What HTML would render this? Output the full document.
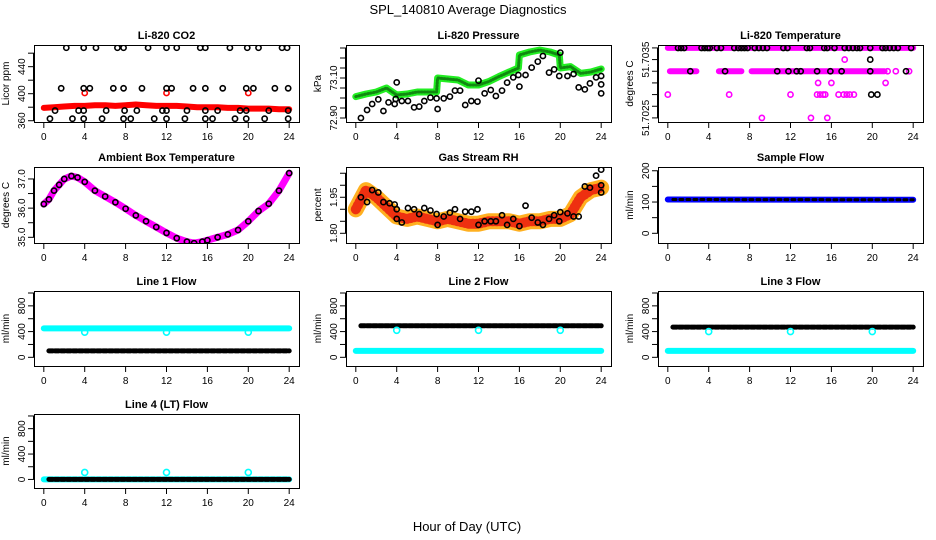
<!DOCTYPE html>
<html><head><meta charset="utf-8">
<style>
html,body{margin:0;padding:0;background:#fff;}
svg{display:block;font-family:"Liberation Sans",sans-serif;}
</style></head>
<body>
<svg id="chart" width="936" height="540" viewBox="0 0 936 540" xmlns="http://www.w3.org/2000/svg">
<rect width="936" height="540" fill="#fff"/>
<text x="468" y="14" text-anchor="middle" font-size="13">SPL_140810  Average Diagnostics</text>
<text x="467" y="531" text-anchor="middle" font-size="13">Hour of Day (UTC)</text>
</svg>
<script>
// ---------- data ----------
var xTicks = [0,4,8,12,16,20,24];
// CO2
var co2BandHours = [0,1,2,3,4,5,6,7,8,9,10,11,12,13,14,15,16,17,18,19,20,21,22,23,24];
var co2BandValues = [379,380,381,382,382,383,383,382,383,384,383,382,382,382,381,380,380,380,379,379,378,378,378,377,377];
var co2RefHours = [4,12,20];
var co2RefValues = [401,401,401];
var co2TopHours = [2.2,3.9,5.1,7.2,7.8,10.2,12,13,15.3,15.8,18.2,19.9,21,23.3,23.8];
var co2TopValues = [468,468,468,468,468,468,468,468,468,468,468,468,468,468,468];
var co2MidHours = [1.7,3.9,4.5,6.8,7.8,9.6,12,12.5,14.6,15.8,17.5,19.8,20.5,22.6,23.9];
var co2MidValues = [408,408,408,408,408,408,408,408,408,408,408,408,408,408,408];
var co2LowHours = [1.1,3.4,3.9,6.1,7.9,9.1,11.6,12,14,15.8,17,19.2,19.8,22,23.9];
var co2LowValues = [375,375,375,375,375,375,375,375,375,375,375,375,375,375,375];
var co2BotHours = [0.6,2.8,3.9,5.7,7.8,8.5,10.8,12,13.8,15.8,16.5,18.7,19.8,21.6,23.9];
var co2BotValues = [363,363,363,363,363,363,363,363,363,363,363,363,363,363,363];
var co2Ticks = [360,380,400,420,440,460];
var co2Labels = ["360","","400","","440",""];
// Pressure
var presBandHours = [0,1,2,3,4,5,6,7,7.9,8,9,10,11,12,13,14,15,15.9,16,17,18,19,19.9,20,21,22,23,24];
var presBandValues = [73.007,73.02,73.03,73.05,73.015,73.02,73.03,73.03,73.03,73.10,73.095,73.09,73.065,73.065,73.082,73.107,73.13,73.15,73.215,73.23,73.24,73.23,73.215,73.15,73.157,73.123,73.13,73.145];
var presPtHours = [0.5,1.1,1.6,2.2,2.7,3.2,3.8,3.9,4,4.5,5.1,5.7,6.2,6.7,7.3,7.9,8,8.6,9.2,9.7,10.2,10.7,11.3,11.9,12,12.6,13.2,13.7,14.3,14.8,15.4,15.9,16,16.6,17.2,17.8,18.3,18.9,19.4,19.9,20,20.7,21.3,21.8,22.4,22.9,23.5,24,24,24];
var presPtValues = [72.90,72.94,72.97,72.993,72.935,72.978,72.97,72.995,73.078,72.985,72.985,72.953,72.957,72.985,73.002,72.998,72.945,72.998,73.007,73.037,73.037,72.965,72.985,72.982,73.087,73.023,73.04,73.01,73.037,73.077,73.103,73.115,73.057,73.115,73.152,73.182,73.21,73.127,73.143,73.11,73.227,73.11,73.12,73.053,73.043,73.073,73.103,73.11,73.068,73.023];
var presTicks = [72.90,72.95,73.00,73.05,73.10,73.15,73.20,73.25];
var presLabels = ["72.90","","","","73.10","","",""];
// Li-820 temperature
var tTopBandHours = [0,24];
var tTopBandValues = [51.7038,51.7038];
var tMidSegStart = [0.2,2.3,5.0,8.2];
var tMidSegEnd = [2.0,2.8,7.2,21.2];
var tMidValue = 51.7034;
var tMagHours = [21.5,22.3,23.6,0,6,12,14.6,14.9,15.2,15.4,16.7,17.2,17.5,17.8,18.2,14.7,16,21.3,17.3,9.2,14,15.6];
var tMagValues = [51.7034,51.7034,51.7034,51.7030,51.7030,51.7030,51.7030,51.7030,51.7030,51.7030,51.7030,51.7030,51.7030,51.7030,51.7030,51.7032,51.7032,51.7032,51.7036,51.7026,51.7026,51.7026];
var tBlkHours = [1.0,1.3,1.6,3.3,3.6,3.9,4.1,4.8,5.2,6.5,6.9,7.2,7.5,7.8,8.5,8.9,9.3,9.7,11.3,11.7,13.6,13.9,15.3,15.6,16.3,17.3,17.7,18.1,18.5,18.8,19.8,21.0,21.3,21.7,22.1,22.5,23.8,2.2,5.6,10.7,11.8,12.6,13.0,14.6,15.9,17.0,19.8,23.3,19.8,19.9,20.5];
var tBlkValues = [51.7038,51.7038,51.7038,51.7038,51.7038,51.7038,51.7038,51.7038,51.7038,51.7038,51.7038,51.7038,51.7038,51.7038,51.7038,51.7038,51.7038,51.7038,51.7038,51.7038,51.7038,51.7038,51.7038,51.7038,51.7038,51.7038,51.7038,51.7038,51.7038,51.7038,51.7038,51.7038,51.7038,51.7038,51.7038,51.7038,51.7038,51.7034,51.7034,51.7034,51.7034,51.7034,51.7034,51.7034,51.7034,51.7034,51.7034,51.7034,51.7036,51.7030,51.7030];
var tTicks = [51.7026,51.7028,51.7030,51.7032,51.7034,51.7036,51.7038];
var tLabels = ["51.7025","","","","","51.7035",""];
// Ambient box temperature
var ambHours = [0,0.5,1,1.5,2,2.7,3.3,4,5,6,7,8,9,10,11,12,13,14,14.7,15.5,16,17,18,19,20,21,22,23,24];
var ambValues = [36.14,36.3,36.6,36.8,37.0,37.1,37.05,36.9,36.6,36.4,36.2,35.98,35.75,35.55,35.35,35.15,34.97,34.85,34.8,34.85,34.9,35.0,35.1,35.25,35.55,35.9,36.15,36.6,37.2];
var ambTicks = [35.0,35.5,36.0,36.5,37.0];
var ambLabels = ["35.0","","36.0","","37.0"];
// Gas stream RH
var rhBandHours = [0,1,2,3,4,5,6,7,8,9,10,11,12,13,14,15,16,17,18,19,20,21,22,23,24];
var rhBandValues = [1.90,1.98,1.95,1.91,1.87,1.86,1.87,1.86,1.85,1.86,1.85,1.84,1.84,1.85,1.85,1.85,1.84,1.85,1.85,1.86,1.86,1.88,1.95,1.98,1.99];
var rhPtHours = [0.5,1.1,1.6,2.2,2.7,3.3,3.8,4,4,4.5,5.1,5.7,6.2,6.7,7.3,7.9,8,8.6,9.2,9.7,10.2,10.7,11.3,11.9,12,12.6,13.2,13.7,14.3,14.8,15.4,16,16.6,17.2,17.8,18.3,18.9,19.4,19.9,20,20.7,21.3,21.8,22.4,22.9,23.5,24,24,24];
var rhPtValues = [1.95,1.93,1.98,1.97,1.93,1.925,1.92,1.90,1.86,1.845,1.905,1.90,1.88,1.905,1.895,1.88,1.835,1.87,1.886,1.90,1.86,1.89,1.89,1.90,1.835,1.85,1.85,1.85,1.875,1.835,1.86,1.83,1.915,1.865,1.845,1.835,1.86,1.875,1.85,1.888,1.883,1.87,1.87,1.995,1.99,2.04,2.00,1.97,2.065];
var rhTicks = [1.80,1.85,1.90,1.95,2.00,2.05];
var rhLabels = ["1.80","","","1.95","",""];
// Sample flow
var sfBandHours = [0,24];
var sfBandValues = [108,107];
var sfTicks = [0,50,100,150,200];
var sfLabels = ["0","","100","","200"];
// Line flows
var flowTicks = [0,200,400,600,800,1000];
var flowLabels = ["0","","400","","800",""];
var l1Cyan = [450,450]; var l1Black = [100,100]; var l1Spike = [390,390,390];
var l2Cyan = [100,100]; var l2Black = [490,490]; var l2Spike = [420,420,420];
var l3Cyan = [100,100]; var l3Black = [470,470]; var l3Spike = [400,400,400];
var l4Cyan = [0,0]; var l4Black = [0,0]; var l4Spike = [110,110,110];
var spikeHours = [4,12,20];
var fullHours = [0,24];
var blackHours = [0.5,24];

// ---------- drawing ----------
var NS = "http://www.w3.org/2000/svg";
var svg = document.getElementById("chart");
function mk(tag, parent, attrs) {
  var e = document.createElementNS(NS, tag);
  for (var k in attrs) e.setAttribute(k, attrs[k]);
  parent.appendChild(e);
  return e;
}
var XL = -0.96, XH = 24.96, PW = 265;
function panel(name, title, ytitle, left, top, bottom, ylo, yhi, ticks, labels) {
  var g = mk("g", svg, {});
  
  
  var sx = function(h){ return left + (h - XL) / (XH - XL) * PW; };
  var sy = function(v){ return bottom - (v - ylo) / (yhi - ylo) * (bottom - top); };
  var t = mk("text", g, {x: left + PW/2, y: top - 6, "text-anchor": "middle", "font-size": 11, "font-weight": "bold"});
  t.textContent = title;
  
  
  var yt = mk("text", g, {transform: "translate(" + (left - 25) + "," + ((top+bottom)/2) + ") rotate(-90)", "text-anchor": "middle", "font-size": 10});
  yt.textContent = ytitle;
  
  
  var xa = mk("g", g, {stroke: "#000", "stroke-width": 1});
  
  
  mk("line", xa, {x1: sx(0), x2: sx(24), y1: bottom + 0.5, y2: bottom + 0.5});
  xTicks.forEach(function(h){
    mk("line", xa, {x1: sx(h), x2: sx(h), y1: bottom, y2: bottom + 6});
    var l = mk("text", g, {x: sx(h), y: bottom + 18, "text-anchor": "middle", "font-size": 10});
    l.textContent = String(h);
    
    
  });
  var ya = mk("g", g, {stroke: "#000", "stroke-width": 1});
  
  
  mk("line", ya, {x1: left - 0.5, x2: left - 0.5, y1: sy(ticks[0]), y2: sy(ticks[ticks.length-1])});
  ticks.forEach(function(v, i){
    mk("line", ya, {x1: left - 6, x2: left, y1: sy(v), y2: sy(v)});
    if (labels[i]) {
      var l = mk("text", g, {transform: "translate(" + (left - 9) + "," + sy(v) + ") rotate(-90)", "text-anchor": "middle", "font-size": 10});
      l.textContent = labels[i];
      
      
    }
  });
  var clipId = "clip-" + name;
  var cp = mk("clipPath", g, {id: clipId});
  mk("rect", cp, {x: left, y: top, width: PW, height: bottom - top});
  var plot = mk("g", g, {"clip-path": "url(#" + clipId + ")"});
  
  
  var box = mk("rect", g, {x: left + 0.5, y: top + 0.5, width: PW, height: bottom - top, fill: "none", stroke: "#000", "stroke-width": 1});
  
  
  return {sx: sx, sy: sy, plot: plot, name: name};
}
function band(p, hs, vs, color, w, dash) {
  var pts = hs.map(function(h, i){ return p.sx(h).toFixed(1) + "," + p.sy(vs[i]).toFixed(1); }).join(" ");
  var a = {points: pts, fill: "none", stroke: color, "stroke-width": w, "stroke-linejoin": "round", "stroke-linecap": "round"};
  if (dash) a["stroke-dasharray"] = dash;
  var e = mk("polyline", p.plot, a);
  
  
}
function pts(p, hs, vs, color, r) {
  var g = mk("g", p.plot, {fill: "none", stroke: color, "stroke-width": 1.6});
  
  
  hs.forEach(function(h, i){
    var c = mk("circle", g, {cx: p.sx(h), cy: p.sy(vs[i]), r: r || 2.6});
    
    
  });
}
var C1 = 34, C2 = 346, C3 = 658;
var R1 = [45,122], R2 = [167,243], R3 = [291,366], R4 = [414,488];

var p1 = panel("co2", "Li-820 CO2", "Licor ppm", C1, R1[0], R1[1], 358.1, 472.1, co2Ticks, co2Labels);
band(p1, co2BandHours, co2BandValues, "#ff0000", 6);
pts(p1, co2RefHours, co2RefValues, "#ff0000");
pts(p1, co2TopHours, co2TopValues, "#000");
pts(p1, co2MidHours, co2MidValues, "#000");
pts(p1, co2LowHours, co2LowValues, "#000");
pts(p1, co2BotHours, co2BotValues, "#000");

var p2 = panel("pressure", "Li-820 Pressure", "kPa", C2, R1[0], R1[1], 72.88, 73.265, presTicks, presLabels);
band(p2, presBandHours, presBandValues, "#22ee22", 7);
band(p2, presBandHours, presBandValues, "#118811", 3, "1 2");
pts(p2, presPtHours, presPtValues, "#000");

var p3 = panel("licor-temp", "Li-820 Temperature", "degrees C", C3, R1[0], R1[1], 51.70253, 51.70385, tTicks, tLabels);
band(p3, tTopBandHours, tTopBandValues, "#ff00ff", 6);
tMidSegStart.forEach(function(s, i){ band(p3, [s, tMidSegEnd[i]], [tMidValue, tMidValue], "#ff00ff", 6); });
pts(p3, tMagHours, tMagValues, "#ff00ff");
pts(p3, tBlkHours, tBlkValues, "#000");

var p4 = panel("ambient-temp", "Ambient Box Temperature", "degrees C", C1, R2[0], R2[1], 34.805, 37.41, ambTicks, ambLabels);
band(p4, ambHours, ambValues, "#ff00ff", 7);
pts(p4, ambHours, ambValues, "#000");

var p5 = panel("gas-rh", "Gas Stream RH", "percent", C2, R2[0], R2[1], 1.7596, 2.076, rhTicks, rhLabels);
band(p5, rhBandHours, rhBandValues, "#ffb020", 16);
band(p5, rhBandHours, rhBandValues, "#ee3010", 10, "1 3");
pts(p5, rhPtHours, rhPtValues, "#000");

var p6 = panel("sample-flow", "Sample Flow", "ml/min", C3, R2[0], R2[1], -31, 212, sfTicks, sfLabels);
band(p6, sfBandHours, sfBandValues, "#0000ff", 6);
band(p6, [0.5, 24], sfBandValues, "#000", 3, "3 4");

function flowPanel(name, title, col, row, cyan, black, spike) {
  var p = panel(name, title, "ml/min", col, row[0], row[1], -135, 1031, flowTicks, flowLabels);
  band(p, fullHours, cyan, "#00ffff", 6);
  band(p, blackHours, black, "#000", 5, "4 2");
  pts(p, spikeHours, spike, "#00ffff", 3);
  return p;
}
flowPanel("line1-flow", "Line 1 Flow", C1, R3, l1Cyan, l1Black, l1Spike);
flowPanel("line2-flow", "Line 2 Flow", C2, R3, l2Cyan, l2Black, l2Spike);
flowPanel("line3-flow", "Line 3 Flow", C3, R3, l3Cyan, l3Black, l3Spike);
flowPanel("line4-flow", "Line 4 (LT) Flow", C1, R4, l4Cyan, l4Black, l4Spike);
</script>
</body></html>
